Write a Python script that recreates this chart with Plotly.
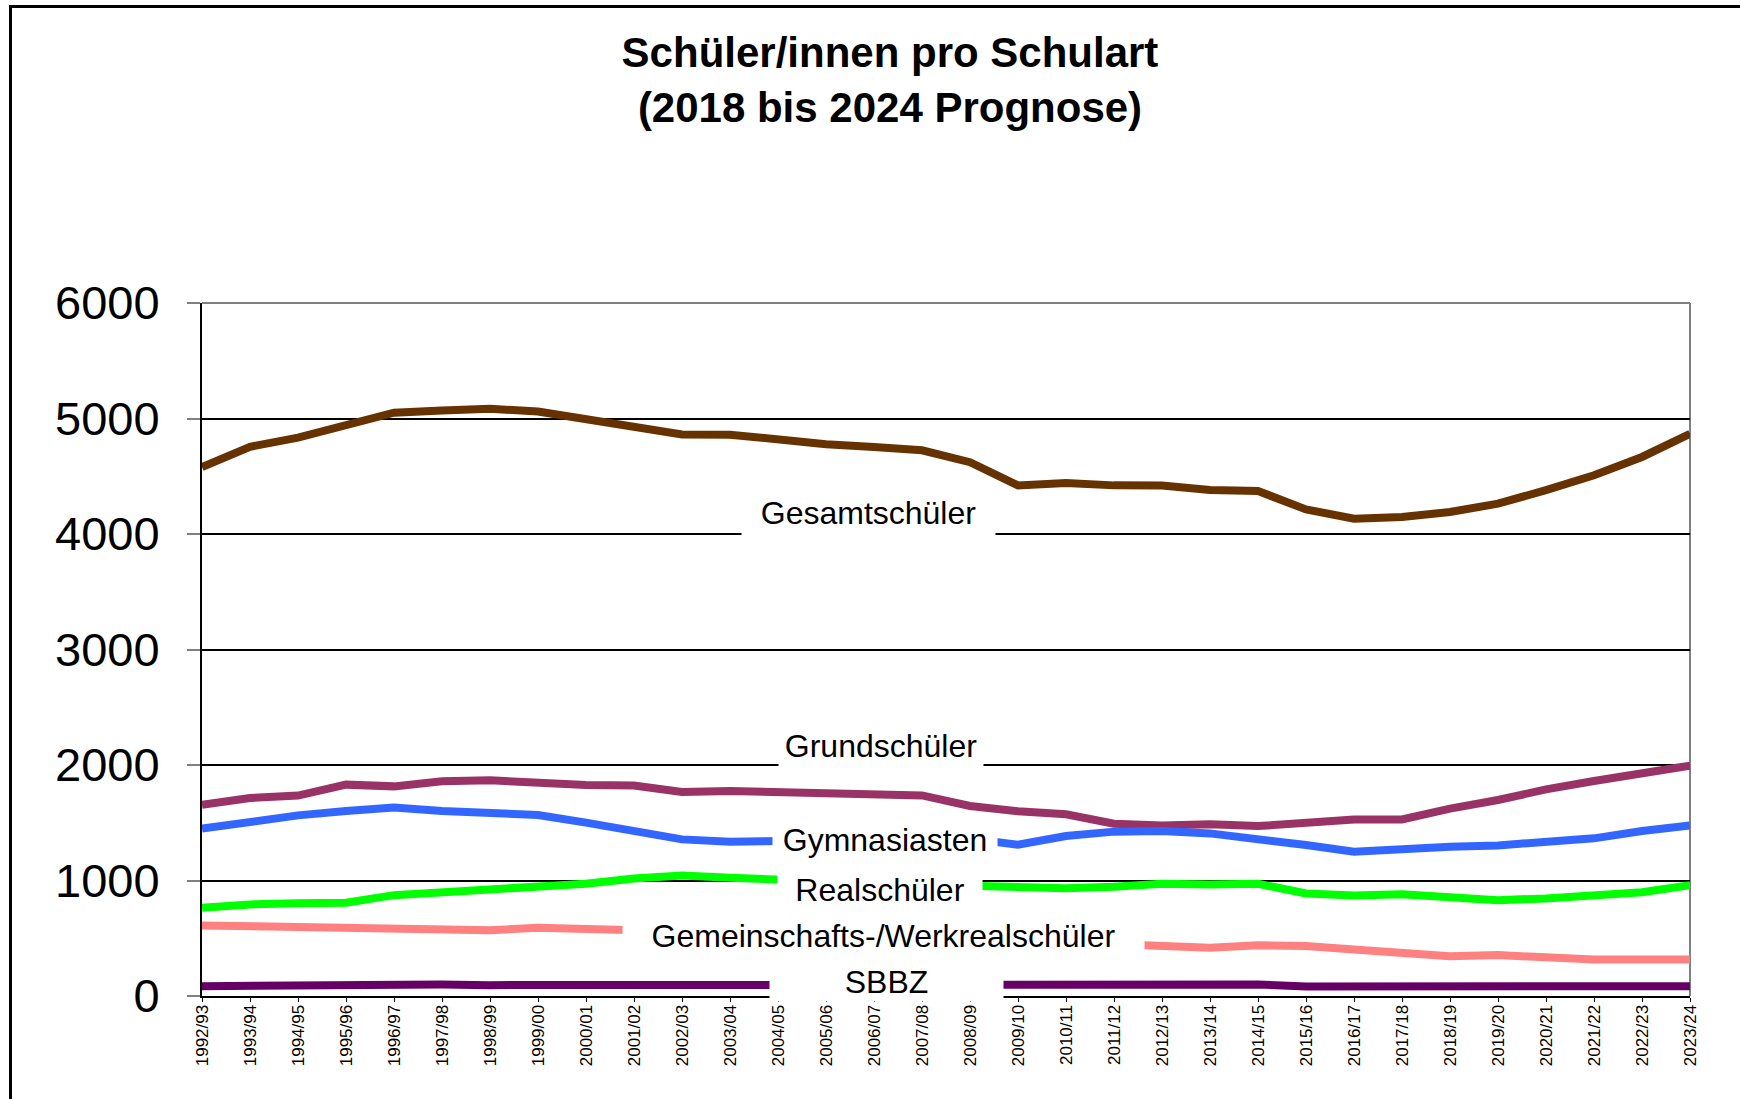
import plotly.graph_objects as go

schuljahre = ["1992/93", "1993/94", "1994/95", "1995/96", "1996/97", "1997/98", "1998/99", "1999/00",
              "2000/01", "2001/02", "2002/03", "2003/04", "2004/05", "2005/06", "2006/07", "2007/08",
              "2008/09", "2009/10", "2010/11", "2011/12", "2012/13", "2013/14", "2014/15", "2015/16",
              "2016/17", "2017/18", "2018/19", "2019/20", "2020/21", "2021/22", "2022/23", "2023/24"]

gesamtschueler = [4580, 4755, 4835, 4945, 5050, 5070, 5085, 5060, 4995, 4915, 4862, 4860, 4818, 4778, 4754, 4725,
                  4622, 4421, 4442, 4421, 4420, 4382, 4372, 4213, 4133, 4147, 4190, 4263, 4380, 4508, 4667, 4868]
grundschueler = [1655, 1715, 1735, 1830, 1815, 1860, 1867, 1840, 1826, 1822, 1766, 1775, 1765, 1760, 1745, 1737,
                 1645, 1600, 1573, 1492, 1477, 1486, 1471, 1506, 1528, 1528, 1622, 1697, 1789, 1861, 1925, 1995]
gymnasiasten = [1449, 1515, 1564, 1602, 1631, 1602, 1579, 1567, 1501, 1420, 1356, 1336, 1342, 1345, 1350, 1355,
                1362, 1310, 1385, 1423, 1428, 1408, 1365, 1307, 1250, 1278, 1293, 1304, 1336, 1365, 1428, 1477]
realschueler = [764, 793, 802, 808, 873, 894, 932, 952, 972, 1018, 1044, 1024, 1004, 990, 975, 965,
                955, 943, 932, 946, 972, 966, 972, 888, 871, 880, 860, 830, 845, 865, 899, 960]
gwrs = [611, 605, 611, 591, 596, 588, 570, 591, 582, 562, 555, 545, 538, 530, 520, 510,
        495, 480, 465, 450, 438, 418, 440, 432, 403, 366, 345, 354, 336, 316, 316, 316]
sbbz = [85, 88, 100, 106, 108, 100, 94, 94, 97, 91, 88, 94, 97, 100, 100, 102,
        105, 103, 88, 97, 100, 100, 100, 82, 82, 91, 85, 85, 85, 85, 85, 85]

serien = [
    ("Gesamtschüler", gesamtschueler, "#663300"),
    ("Grundschüler", grundschueler, "#993366"),
    ("Gymnasiasten", gymnasiasten, "#3366FF"),
    ("Realschüler", realschueler, "#00FF00"),
    ("Gemeinschafts-/Werkrealschüler", gwrs, "#FF8080"),
    ("SBBZ", sbbz, "#660066"),
]

W, H = 1740, 1099
L, R, T, B = 202, 1690, 303, 996
FONT = "Liberation Sans, Arial, sans-serif"

def px(x):
    return (x - L) / (R - L)

def py(y):
    return (B - y) / (B - T)

fig = go.Figure()
for name, vals, col in serien:
    fig.add_trace(go.Scatter(x=schuljahre, y=vals, mode="lines", name=name,
                             line=dict(color=col, width=8), showlegend=False))

# label boxes: (text, center x px, center y px, width, height)
labels = [
    ("Gesamtschüler", 868, 513, 253, 50),
    ("Grundschüler", 881, 746, 204, 48),
    ("Gymnasiasten", 884.5, 840, 224, 44),
    ("Realschüler", 880, 890, 204, 44),
    ("Gemeinschafts-/Werkrealschüler", 883.5, 936, 521, 44),
    ("SBBZ", 886.5, 982, 233, 38),
]
annotations = []
for txt, cx, cy, w, h in labels:
    annotations.append(dict(text=txt, xref="paper", yref="paper", x=px(cx), y=py(cy),
                            xanchor="center", yanchor="middle", showarrow=False,
                            width=w, height=h, bgcolor="white", borderpad=0,
                            font=dict(family=FONT, size=32, color="black")))

shapes = [
    dict(type="line", xref="paper", yref="paper", x0=1, x1=1, y0=0, y1=1,
         line=dict(color="#808080", width=2), layer="below"),
    dict(type="line", xref="paper", yref="paper", x0=0, x1=1, y0=1, y1=1,
         line=dict(color="#808080", width=2), layer="above"),
    dict(type="rect", xref="paper", yref="paper", x0=px(10.5), x1=px(1770), y0=py(1130), y1=py(6.5),
         line=dict(color="black", width=3), layer="above"),
]

fig.update_layout(
    width=W, height=H,
    margin=dict(l=L, r=W - R, t=T, b=H - B),
    paper_bgcolor="white", plot_bgcolor="white",
    title=dict(text="<b>Schüler/innen pro Schulart<br>(2018 bis 2024 Prognose)</b>",
               x=890 / W, xanchor="center", xref="container",
               y=1 - 67 / H, yanchor="middle", yref="container",
               font=dict(family=FONT, size=42, color="black")),
    annotations=annotations,
    shapes=shapes,
)
fig.update_xaxes(type="category", range=[0, len(schuljahre) - 1], showgrid=False,
                 showline=True, linecolor="black", linewidth=2,
                 ticks="outside", ticklen=4, tickcolor="black", tickwidth=1,
                 tickangle=-90, ticklabelstandoff=-4,
                 tickfont=dict(family=FONT, size=17, color="black"))
fig.update_yaxes(range=[0, 6000], tickvals=[0, 1000, 2000, 3000, 4000, 5000, 6000],
                 showgrid=True, gridcolor="black", gridwidth=2, zeroline=False,
                 showline=True, linecolor="black", linewidth=2,
                 ticks="outside", ticklen=13, tickcolor="#808080", tickwidth=2,
                 ticklabelstandoff=18,
                 tickfont=dict(family=FONT, size=47, color="black"))

fig.write_html("out.html", config={"displayModeBar": False},
               post_script=["document.body.style.margin='0px';"])
